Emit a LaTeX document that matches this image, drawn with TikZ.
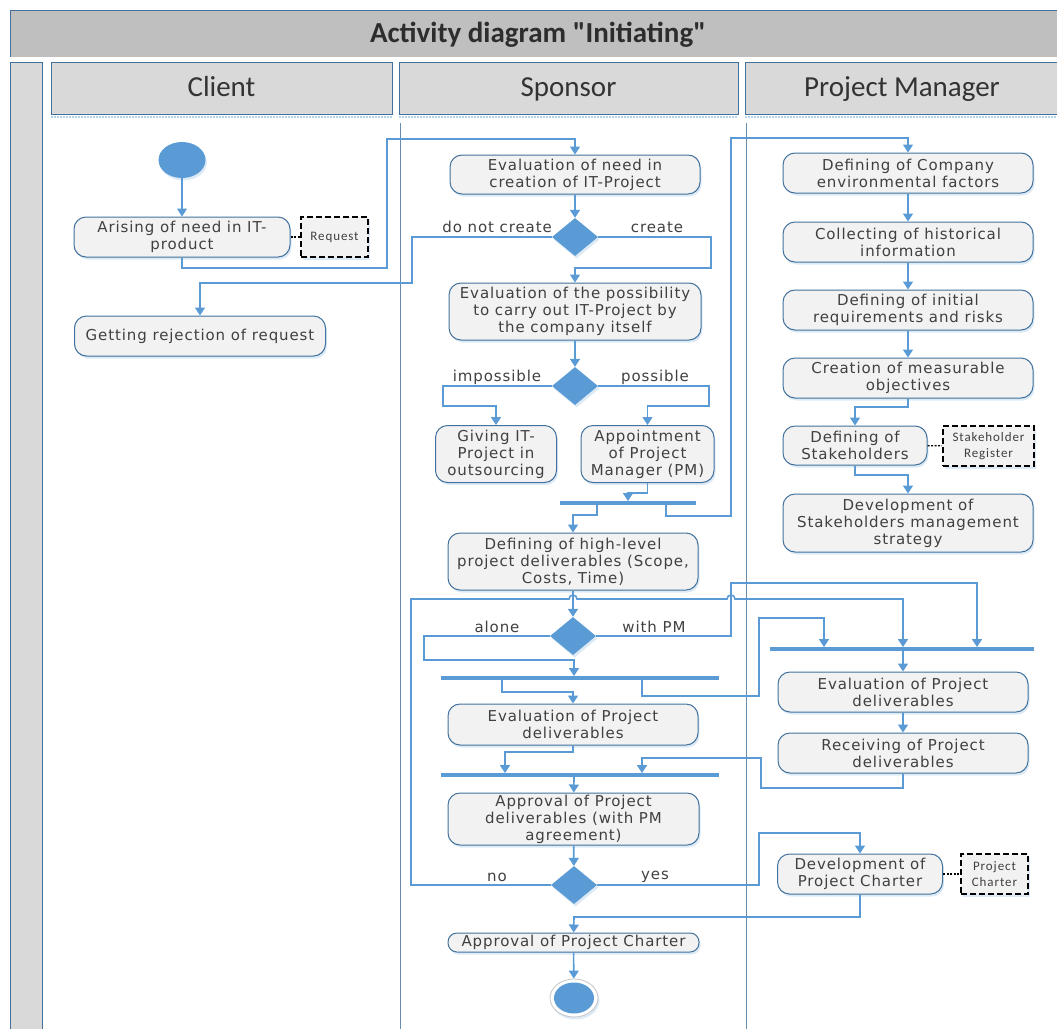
\documentclass[tikz,border=0pt]{standalone}
\usepackage{fontspec}
\usetikzlibrary{shapes.geometric,arrows.meta,shadows}
\newfontfamily\actfont[LetterSpace=6]{DejaVu Sans}
\newfontfamily\headfont{Carlito}
\newfontfamily\objfont[LetterSpace=7]{Carlito}
\definecolor{lineblue}{HTML}{5B9BD5}
\definecolor{edgeblue}{HTML}{41719C}
\definecolor{actfill}{HTML}{F2F2F2}
\definecolor{txtgrey}{HTML}{404040}
\definecolor{headgrey}{HTML}{D9D9D9}
\definecolor{titlegrey}{HTML}{BFBFBF}
\tikzset{
  softshadow/.style={drop shadow={shadow xshift=1.5pt, shadow yshift=-2.5pt, fill=lineblue!30, opacity=0.7}},
  act/.style={draw=edgeblue, fill=actfill, line width=1pt, rounded corners=12pt, align=center, softshadow,
    text=txtgrey, inner sep=1pt, font=\actfont\fontsize{15}{17}\selectfont},
  wh/.style 2 args={minimum width=#1pt, minimum height=#2pt},
  obj/.style={draw=black, dash pattern=on 6pt off 3pt, line width=1.8pt, fill=actfill, align=center, softshadow,
    text=txtgrey, inner sep=1pt, font=\objfont\fontsize{13}{16}\selectfont},
  dec/.style={diamond, fill=lineblue, inner sep=0pt, minimum width=46pt, minimum height=38pt, softshadow},
  bar/.style={fill=lineblue, inner sep=0pt, minimum height=3.5pt},
  flow/.style={draw=lineblue, line width=1.6pt, -{Triangle[width=10pt,length=8pt]}},
  objlink/.style={draw=black, line width=1.3pt, dash pattern=on 2pt off 1.5pt},
  guard/.style={text=txtgrey, inner sep=0pt, font=\actfont\fontsize{15}{17}\selectfont},
  lane/.style={draw=edgeblue, line width=0.8pt, fill=headgrey, inner sep=0pt, text=txtgrey!80!black,
    text height=19pt, text depth=3pt, font=\headfont\fontsize{29}{32}\selectfont},
}

\begin{document}
\begin{tikzpicture}[x=1pt, y=-1pt]
  \useasboundingbox (0,0) rectangle (1057,1028);
  % frame and swimlanes
  \fill[titlegrey] (10,10) rectangle (1057,57);
  \draw[edgeblue, line width=0.8pt] (10,57) |- (1057,10);
  \node[font=\headfont\bfseries\fontsize{29}{32}\selectfont, text=txtgrey!70!black] (title) at (538,35) {Activity diagram "Initiating"};
  \filldraw[fill=headgrey, draw=edgeblue, line width=0.8pt] (10,62) rectangle (42,1032);
  \node[lane, wh={341}{52}] (clienthead) at (221.5,88) {Client};
  \node[lane, wh={339}{52}] (sponsorhead) at (568.5,88) {Sponsor};
  \node[lane, wh={314}{52}] (pmhead) at (902,88) {Project Manager};
  \draw[lineblue!45, densely dotted, line width=2pt] (51,117) -- (392,117) (399,117) -- (738,117) (745,117) -- (1057,117);
  \draw[edgeblue!80, line width=0.7pt] (400,123) -- (400,1030) (746,123) -- (746,1030);

  % client
  \node[ellipse, fill=lineblue, inner sep=0pt, wh={47}{36}, softshadow] (init) at (182,160) {};
  \node[act, wh={216}{40}] (arise) at (182,237) {Arising of need in IT-\\product};
  \node[obj, wh={67}{40}] (request) at (334.5,237) {Request};
  \node[act, wh={251}{40}] (reject) at (200,336) {Getting rejection of request};

  % sponsor
  \node[act, wh={250}{39}] (evalneed) at (575,174.5) {Evaluation of need in\\creation of IT-Project};
  \node[dec] (dec1) at (575,237) {};
  \node[guard, anchor=east] (lnocreate) at (552,227) {do not create};
  \node[guard] (lcreate) at (657,227) {create};
  \node[act, wh={252}{57}] (evalposs) at (575,311.5) {Evaluation of the possibility\\to carry out IT-Project by\\the company itself};
  \node[dec] (dec2) at (575,386) {};
  \node[guard] (limposs) at (497,377) {impossible};
  \node[guard] (lposs) at (655,377) {possible};
  \node[act, wh={121}{57}] (outsrc) at (496,454) {Giving IT-\\Project in\\outsourcing};
  \node[act, wh={133}{57}] (appoint) at (647.5,454) {Appointment\\of Project\\Manager (PM)};
  \node[bar, minimum width=136pt] (sync1) at (628,503) {};
  \node[act, wh={250}{57}] (defhigh) at (573,561.5) {Defining of high-level\\project deliverables (Scope,\\Costs, Time)};
  \node[dec] (dec3) at (573,636) {};
  \node[guard] (lalone) at (497,627) {alone};
  \node[guard] (lwithpm) at (654,627) {with PM};
  \node[bar, minimum width=278pt] (sync2) at (580,678) {};
  \node[act, wh={250}{41}] (evalsp) at (573,724.5) {Evaluation of Project\\deliverables};
  \node[bar, minimum width=278pt] (sync4) at (580,775) {};
  \node[act, wh={251}{52}] (approvdel) at (573.5,819) {Approval of Project\\deliverables (with PM\\agreement)};
  \node[dec] (dec4) at (574,885) {};
  \node[guard] (lno) at (497,877) {no};
  \node[guard] (lyes) at (655,877) {yes};
  \node[act, wh={251}{19}, rounded corners=9pt] (approvchart) at (573.5,942.5) {Approval of Project Charter};
  \node[ellipse, draw=gray!45, fill=white, line width=0.8pt, inner sep=0pt, wh={48}{38}, softshadow] (finishring) at (574,998) {};
  \node[ellipse, fill=lineblue, inner sep=0pt, wh={40}{31}] (finish) at (574,998) {};

  % project manager
  \node[act, wh={250}{40}] (defenv) at (908,173) {Defining of Company\\environmental factors};
  \node[act, wh={250}{40}] (collect) at (908,242) {Collecting of historical\\information};
  \node[act, wh={250}{40}] (initreq) at (908,310) {Defining of initial\\requirements and risks};
  \node[act, wh={250}{40}] (measobj) at (908,378) {Creation of measurable\\objectives};
  \node[act, wh={144}{39}] (defstake) at (855,445.5) {Defining of\\Stakeholders};
  \node[obj, wh={91}{40}] (stakereg) at (988.5,446) {Stakeholder\\Register};
  \node[act, wh={250}{58}] (devstrat) at (908,523) {Development of\\Stakeholders management\\strategy};
  \node[bar, minimum width=264pt] (sync3) at (902,649) {};
  \node[act, wh={250}{40}] (evalpm) at (903,692) {Evaluation of Project\\deliverables};
  \node[act, wh={250}{40}] (recv) at (903,753) {Receiving of Project\\deliverables};
  \node[act, wh={165}{40}] (devchart) at (860,874) {Development of\\Project Charter};
  \node[obj, wh={67}{40}] (pcharter) at (994.5,874) {Project\\Charter};

  % flows
  \draw[flow] (init) -- (arise);
  \draw[flow] (arise) |- (387,268) |- (575,139) -- (evalneed);
  \draw[flow] (evalneed) -- (dec1);
  \draw[flow] (dec1) -| (412,283) -| (reject);
  \draw[flow] (dec1) -| (711,268) -| (evalposs);
  \draw[flow] (evalposs) -- (dec2);
  \draw[flow] (dec2) -| (443,406) -| (outsrc);
  \draw[flow] (dec2) -| (709,406) -| (appoint);
  \draw[flow] (appoint) |- (628,493) -- (628,0 |- sync1.north);
  \draw[flow] (597,0 |- sync1.south) |- (573,515) -- (defhigh);
  \draw[flow] (666,0 |- sync1.south) |- (731,516) |- (908,138) -- (defenv);
  \draw[flow] (defenv) -- (collect);
  \draw[flow] (collect) -- (initreq);
  \draw[flow] (initreq) -- (measobj);
  \draw[flow] (measobj) |- (855,407) -- (defstake);
  \draw[flow] (defstake) |- (908,475) -- (devstrat);
  \draw[flow] (defhigh) -- (dec3);
  \draw[flow] (dec3) -| (424,660) -| (574,0 |- sync2.north);
  \draw[flow] (dec3) -| (731,583) -| (977,0 |- sync3.north);
  \draw[flow] (502,0 |- sync2.south) |- (573,692) -- (evalsp);
  \draw[flow] (642,0 |- sync2.south) |- (759,696) |- (824,618) -- (824,0 |- sync3.north);
  \draw[flow] (dec4) -| (411,599) -- (569,599) arc[start angle=180, end angle=0, radius=4pt]
    -- (727,599) arc[start angle=180, end angle=0, radius=4pt] -| (903,0 |- sync3.north);
  \draw[flow] (903,0 |- sync3.south) -- (evalpm);
  \draw[flow] (evalpm) -- (recv);
  \draw[flow] (recv) |- (761,788) |- (642,758) -- (642,0 |- sync4.north);
  \draw[flow] (evalsp) |- (505,752) -- (505,0 |- sync4.north);
  \draw[flow] (574,0 |- sync4.south) -- (approvdel);
  \draw[flow] (approvdel) -- (dec4);
  \draw[flow] (dec4) -| (759,833) -| (devchart);
  \draw[flow] (devchart) |- (574,917) -- (approvchart);
  \draw[flow] (approvchart) -- (finishring);
  \draw[objlink] (arise) -- (request);
  \draw[objlink] (defstake) -- (stakereg);
  \draw[objlink] (devchart) -- (pcharter);
\end{tikzpicture}
\end{document}
